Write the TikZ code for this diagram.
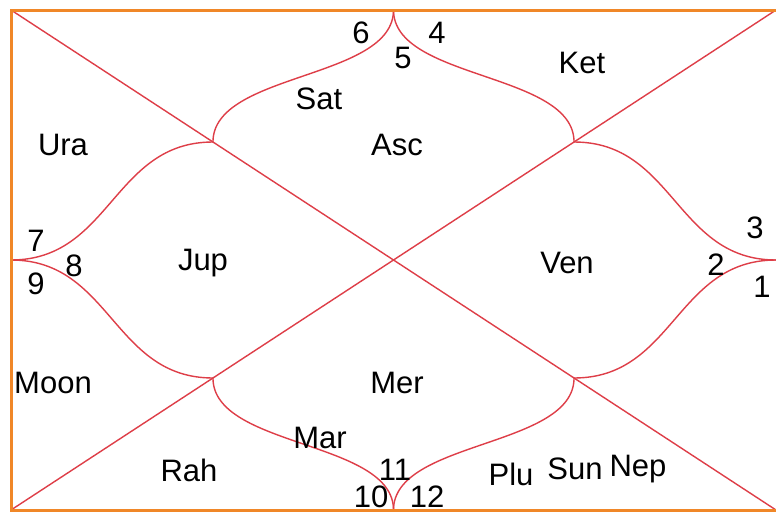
\documentclass[tikz,border=0pt]{standalone}
\usepackage{fontspec}
\setmainfont{Liberation Sans}
\usetikzlibrary{calc}
\definecolor{frameorange}{RGB}{240,135,40}
\definecolor{linered}{RGB}{222,62,72}
\tikzset{
  chartline/.style={draw=linered, line width=1.4pt},
  framebox/.style={draw=frameorange, line width=3pt},
  lbl/.style={inner sep=0pt, text=black, font=\fontsize{31}{33}\selectfont}
}
\begin{document}
\begin{tikzpicture}[x=1pt,y=-1pt]
\useasboundingbox (0,0) rectangle (776,514);
\fill[white] (0,0) rectangle (776,514);
% corners and key points
\coordinate (TL) at (11,10);
\coordinate (TR) at (776,10);
\coordinate (BL) at (11,510);
\coordinate (BR) at (776,510);
\coordinate (T) at (393.5,10);
\coordinate (B) at (393.5,510);
\coordinate (L) at (11,260);
\coordinate (R) at (776,260);
\coordinate (Q1) at ($(TL)!0.264!(BR)$);
\coordinate (Q2) at ($(TR)!0.264!(BL)$);
\coordinate (Q3) at ($(BL)!0.264!(TR)$);
\coordinate (Q4) at ($(BR)!0.264!(TL)$);
% diagonals
\draw[chartline] (TL) -- (BR);
\draw[chartline] (TR) -- (BL);
% curves
\draw[chartline] (T) .. controls ($(T)+(0,70)$) and ($(Q1)+(0,-70)$) .. (Q1);
\draw[chartline] (Q1) .. controls ($(Q1)+(-100,0)$) and ($(L)+(100,0)$) .. (L);
\draw[chartline] (L) .. controls ($(L)+(100,0)$) and ($(Q3)+(-100,0)$) .. (Q3);
\draw[chartline] (Q3) .. controls ($(Q3)+(0,70)$) and ($(B)+(0,-70)$) .. (B);
\draw[chartline] (B) .. controls ($(B)+(0,-70)$) and ($(Q4)+(0,70)$) .. (Q4);
\draw[chartline] (Q4) .. controls ($(Q4)+(100,0)$) and ($(R)+(-100,0)$) .. (R);
\draw[chartline] (R) .. controls ($(R)+(-100,0)$) and ($(Q2)+(100,0)$) .. (Q2);
\draw[chartline] (Q2) .. controls ($(Q2)+(0,-70)$) and ($(T)+(0,70)$) .. (T);
% frame (right side lies outside the picture)
\draw[framebox] (TR) -- (TL) -- (BL) -- (BR);
% labels
\node[lbl] (n6) at (361,33) {6};
\node[lbl] (n5) at (403,58) {5};
\node[lbl] (n4) at (437,33) {4};
\node[lbl] (ket) at (582,63) {Ket};
\node[lbl] (sat) at (319,99) {Sat};
\node[lbl] (asc) at (397,145) {Asc};
\node[lbl] (ura) at (63,145) {Ura};
\node[lbl] (n7) at (36,241) {7};
\node[lbl] (n8) at (74,266) {8};
\node[lbl] (n9) at (36,284) {9};
\node[lbl] (jup) at (203,263) {Jup};
\node[lbl] (ven) at (567,263) {Ven};
\node[lbl] (n2) at (716,265) {2};
\node[lbl] (n3) at (755,228) {3};
\node[lbl] (n1) at (762,287) {1};
\node[lbl] (moon) at (53,383) {Moon};
\node[lbl] (mer) at (397,383) {Mer};
\node[lbl] (mar) at (320,438) {Mar};
\node[lbl] (rah) at (189,470) {Rah};
\node[lbl] (n11) at (395,470) {11};
\node[lbl] (n10) at (371,497) {10};
\node[lbl] (n12) at (427,497) {12};
\node[lbl] (plu) at (511,474) {Plu};
\node[lbl] (sun) at (575,469) {Sun};
\node[lbl] (nep) at (638,469) {Nep};
\end{tikzpicture}
\end{document}
